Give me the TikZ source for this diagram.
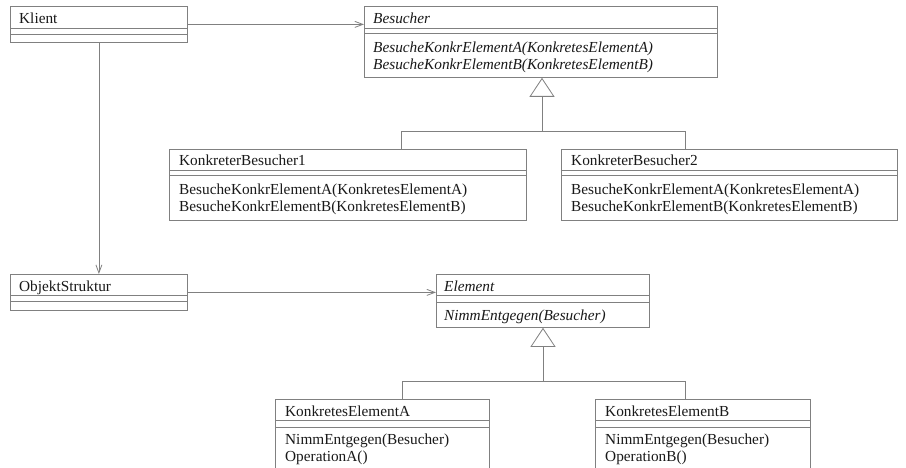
\documentclass[tikz,border=0pt]{standalone}
\usepackage{fontspec}
\setmainfont{Liberation Serif}
\usetikzlibrary{arrows.meta}

\definecolor{linegray}{RGB}{128,128,128}
\definecolor{inkcol}{RGB}{25,25,25}

\tikzset{
  box/.style={draw=linegray, line width=0.8pt, fill=white, inner sep=0pt, anchor=north west},
  sepline/.style={draw=linegray, line width=0.8pt},
  conn/.style={draw=linegray, line width=0.8pt},
  assoc/.style={conn, -{Straight Barb[length=8pt,width=6pt]}},
  gener/.style={conn, -{Triangle[open, length=19pt, width=25pt, fill=white]}},
  label/.style={inner sep=0pt, anchor=base west, text=inkcol,
                font=\fontsize{15.3pt}{17pt}\selectfont},
  ilabel/.style={label, font=\fontsize{15.3pt}{17pt}\selectfont\itshape},
}

\begin{document}
\begin{tikzpicture}[x=1pt, y=-1pt]
  \useasboundingbox (0,0) rectangle (906,468);
  \clip (0,0) rectangle (906,468);

  % ---- Klient
  \node[box, minimum width=177pt, minimum height=36pt] (klient) at (10,6) {};
  \draw[sepline] ([yshift=-22pt]klient.north west) -- ([yshift=-22pt]klient.north east);
  \draw[sepline] ([yshift=-28pt]klient.north west) -- ([yshift=-28pt]klient.north east);
  \node[label] (klientT) at ([xshift=9pt,yshift=-18pt]klient.north west) {Klient};

  % ---- Besucher (abstract)
  \node[box, minimum width=353pt, minimum height=71pt] (besucher) at (364,6) {};
  \draw[sepline] ([yshift=-22pt]besucher.north west) -- ([yshift=-22pt]besucher.north east);
  \draw[sepline] ([yshift=-27pt]besucher.north west) -- ([yshift=-27pt]besucher.north east);
  \node[ilabel] (besucherT) at ([xshift=9pt,yshift=-18pt]besucher.north west) {Besucher};
  \node[ilabel] (besucherO1) at ([xshift=9pt,yshift=-47pt]besucher.north west)
    {BesucheKonkrElementA(KonkretesElementA)};
  \node[ilabel] (besucherO2) at ([xshift=9pt,yshift=-64pt]besucher.north west)
    {BesucheKonkrElementB(KonkretesElementB)};

  % ---- KonkreterBesucher1
  \node[box, minimum width=357pt, minimum height=71pt] (kb1) at (169,149) {};
  \draw[sepline] ([yshift=-21pt]kb1.north west) -- ([yshift=-21pt]kb1.north east);
  \draw[sepline] ([yshift=-26pt]kb1.north west) -- ([yshift=-26pt]kb1.north east);
  \node[label] (kb1T) at ([xshift=10pt,yshift=-17pt]kb1.north west) {KonkreterBesucher1};
  \node[label] (kb1O1) at ([xshift=10pt,yshift=-46pt]kb1.north west)
    {BesucheKonkrElementA(KonkretesElementA)};
  \node[label] (kb1O2) at ([xshift=10pt,yshift=-63pt]kb1.north west)
    {BesucheKonkrElementB(KonkretesElementB)};

  % ---- KonkreterBesucher2
  \node[box, minimum width=336pt, minimum height=71pt] (kb2) at (561,149) {};
  \draw[sepline] ([yshift=-21pt]kb2.north west) -- ([yshift=-21pt]kb2.north east);
  \draw[sepline] ([yshift=-26pt]kb2.north west) -- ([yshift=-26pt]kb2.north east);
  \node[label] (kb2T) at ([xshift=10pt,yshift=-17pt]kb2.north west) {KonkreterBesucher2};
  \node[label] (kb2O1) at ([xshift=10pt,yshift=-46pt]kb2.north west)
    {BesucheKonkrElementA(KonkretesElementA)};
  \node[label] (kb2O2) at ([xshift=10pt,yshift=-63pt]kb2.north west)
    {BesucheKonkrElementB(KonkretesElementB)};

  % ---- ObjektStruktur
  \node[box, minimum width=177pt, minimum height=36pt] (objekt) at (10,274) {};
  \draw[sepline] ([yshift=-21pt]objekt.north west) -- ([yshift=-21pt]objekt.north east);
  \draw[sepline] ([yshift=-27pt]objekt.north west) -- ([yshift=-27pt]objekt.north east);
  \node[label] (objektT) at ([xshift=9pt,yshift=-17pt]objekt.north west) {ObjektStruktur};

  % ---- Element (abstract)
  \node[box, minimum width=213pt, minimum height=53pt] (element) at (436,274) {};
  \draw[sepline] ([yshift=-21pt]element.north west) -- ([yshift=-21pt]element.north east);
  \draw[sepline] ([yshift=-28pt]element.north west) -- ([yshift=-28pt]element.north east);
  \node[ilabel] (elementT) at ([xshift=8pt,yshift=-17pt]element.north west) {Element};
  \node[ilabel] (elementO1) at ([xshift=8pt,yshift=-46pt]element.north west)
    {NimmEntgegen(Besucher)};

  % ---- KonkretesElementA
  \node[box, minimum width=214pt, minimum height=85pt] (kea) at (275,399) {};
  \draw[sepline] ([yshift=-21pt]kea.north west) -- ([yshift=-21pt]kea.north east);
  \draw[sepline] ([yshift=-28pt]kea.north west) -- ([yshift=-28pt]kea.north east);
  \node[label] (keaT) at ([xshift=10pt,yshift=-17pt]kea.north west) {KonkretesElementA};
  \node[label] (keaO1) at ([xshift=10pt,yshift=-45pt]kea.north west) {NimmEntgegen(Besucher)};
  \node[label] (keaO2) at ([xshift=10pt,yshift=-62pt]kea.north west) {OperationA()};

  % ---- KonkretesElementB
  \node[box, minimum width=215pt, minimum height=85pt] (keb) at (595,399) {};
  \draw[sepline] ([yshift=-21pt]keb.north west) -- ([yshift=-21pt]keb.north east);
  \draw[sepline] ([yshift=-28pt]keb.north west) -- ([yshift=-28pt]keb.north east);
  \node[label] (kebT) at ([xshift=10pt,yshift=-17pt]keb.north west) {KonkretesElementB};
  \node[label] (kebO1) at ([xshift=10pt,yshift=-45pt]keb.north west) {NimmEntgegen(Besucher)};
  \node[label] (kebO2) at ([xshift=10pt,yshift=-62pt]keb.north west) {OperationB()};

  % ---- associations
  \draw[assoc] (klient.east) -- (klient.east -| besucher.west);
  \draw[assoc] (klient.south) -- (objekt.north);
  \draw[assoc] (objekt.east) -- (objekt.east -| element.west);

  % ---- generalisation: Besucher hierarchy
  \coordinate (gb)  at (542,131);
  \coordinate (gb1) at (401,131);
  \coordinate (gb2) at (685,131);
  \draw[gener] (gb) -- (gb |- besucher.south);
  \draw[conn] (gb1 |- kb1.north) -- (gb1) -- (gb2) -- (gb2 |- kb2.north);

  % ---- generalisation: Element hierarchy
  \coordinate (ge)  at (543,381);
  \coordinate (ge1) at (402,381);
  \coordinate (ge2) at (685,381);
  \draw[gener] (ge) -- (ge |- element.south);
  \draw[conn] (ge1 |- kea.north) -- (ge1) -- (ge2) -- (ge2 |- keb.north);
\end{tikzpicture}
\end{document}
